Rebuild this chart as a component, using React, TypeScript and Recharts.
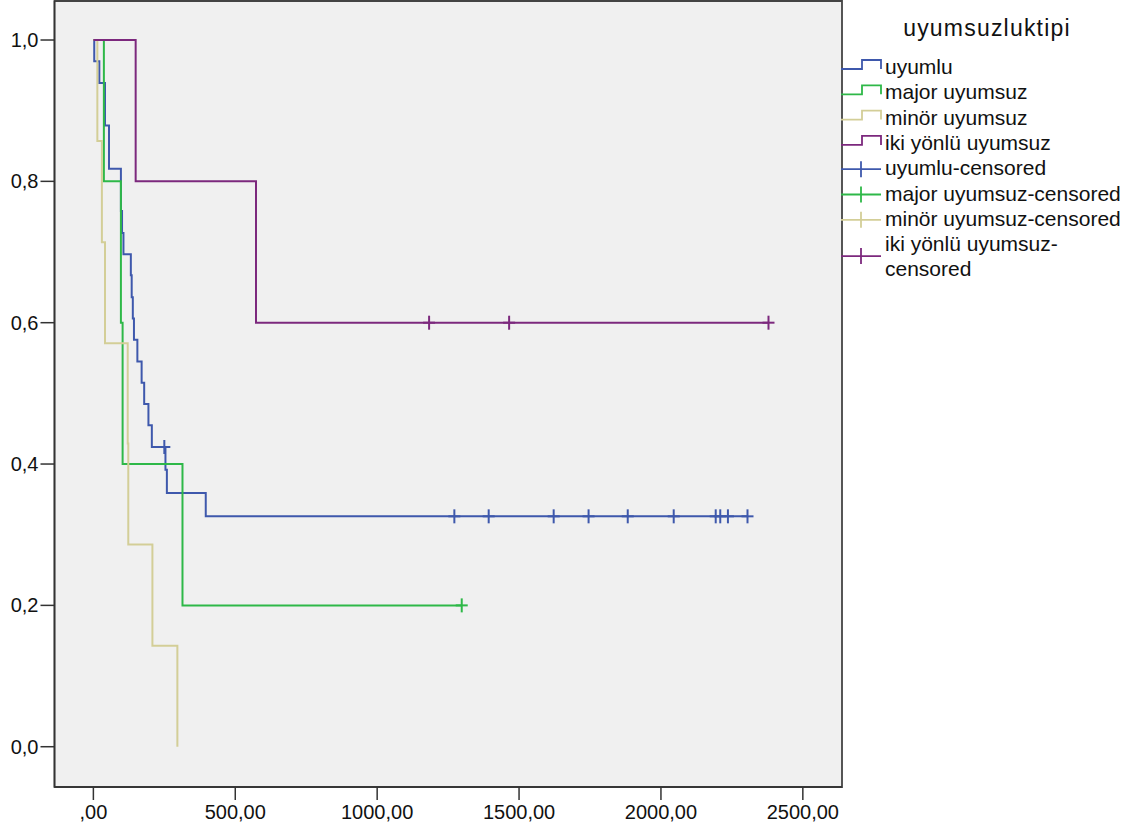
import React from 'react';
import { ComposedChart, Line, Scatter, XAxis, YAxis, ReferenceArea, Legend } from 'recharts';

// Kaplan-Meier steps (time, survival)
const uyumluT = [0, 3, 21, 41, 55, 97, 101, 106, 132, 135, 139, 143, 155, 170, 179, 194, 206, 250, 254, 259, 396, 2305];
const uyumluS = [1, 0.97, 0.939, 0.879, 0.818, 0.758, 0.727, 0.697, 0.667, 0.636, 0.606, 0.576, 0.545, 0.515, 0.485, 0.455, 0.424, 0.424, 0.392, 0.359, 0.326, 0.326];
const uyumluCensT = [250, 1272, 1393, 1622, 1745, 1883, 2045, 2193, 2209, 2236, 2305];
const uyumluCensS = [0.424, 0.326, 0.326, 0.326, 0.326, 0.326, 0.326, 0.326, 0.326, 0.326, 0.326];

const majorT = [0, 37, 97, 103, 314, 1298];
const majorS = [1, 0.8, 0.6, 0.4, 0.2, 0.2];
const majorCensT = [1298];
const majorCensS = [0.2];

const minorT = [0, 14, 30, 41, 121, 123, 208, 296];
const minorS = [1, 0.857, 0.714, 0.571, 0.429, 0.286, 0.143, 0];
const minorCensT: number[] = [];
const minorCensS: number[] = [];

const ikiT = [0, 149, 573, 2379];
const ikiS = [1, 0.8, 0.6, 0.6];
const ikiCensT = [1183, 1465, 2379];
const ikiCensS = [0.6, 0.6, 0.6];

const seriesNames = ['uyumlu', 'major uyumsuz', 'minör uyumsuz', 'iki yönlü uyumsuz'];
const censoredNames = ['uyumlu-censored', 'major uyumsuz-censored', 'minör uyumsuz-censored', 'iki yönlü uyumsuz-censored'];
const colors = ['#3E58AC', '#2EB848', '#D3CE97', '#7C287D'];
const legendTitle = 'uyumsuzluktipi';

const xTicks = [0, 500, 1000, 1500, 2000, 2500];
const yTicks = [0, 0.2, 0.4, 0.6, 0.8, 1.0];

const zip = (t: number[], s: number[]) => t.map((v, i) => ({ t: v, s: s[i] }));
const steps = [zip(uyumluT, uyumluS), zip(majorT, majorS), zip(minorT, minorS), zip(ikiT, ikiS)];
const cens = [zip(uyumluCensT, uyumluCensS), zip(majorCensT, majorCensS), zip(minorCensT, minorCensS), zip(ikiCensT, ikiCensS)];

const X_DOMAIN: [number, number] = [-137, 2638];
const Y_DOMAIN: [number, number] = [-0.057, 1.0552];

const FONT = '"Liberation Sans", Arial, sans-serif';

const makeCross = (color: string) => (props: any) => {
  const { cx, cy } = props;
  if (cx == null || cy == null) return <g />;
  return (
    <g>
      <line x1={cx - 6} x2={cx + 6} y1={cy} y2={cy} stroke={color} strokeWidth={2} />
      <line x1={cx} x2={cx} y1={cy - 7} y2={cy + 7} stroke={color} strokeWidth={2} />
    </g>
  );
};

const LegendContent = () => {
  const base0 = 74;
  const dy = 25.3;
  const items: React.ReactNode[] = [];
  seriesNames.forEach((n, i) => {
    const b = base0 + dy * i;
    items.push(
      <g key={'s' + i}>
        <path d={`M1,${b - 5} H22 V${b - 14} H41 V${b - 5}`} fill="none" stroke={colors[i]} strokeWidth={1.8} />
        <text x={45} y={b} fontSize={21} fontFamily={FONT} fill="#111">{n}</text>
      </g>
    );
  });
  censoredNames.forEach((n, i) => {
    const b = base0 + dy * (i + 4);
    const twoLine = i === 3;
    const lineY = twoLine ? b + 5 : b - 6;
    items.push(
      <g key={'c' + i}>
        <line x1={1} x2={41} y1={lineY} y2={lineY} stroke={colors[i]} strokeWidth={1.8} />
        <line x1={21} x2={21} y1={lineY - 8} y2={lineY + 8} stroke={colors[i]} strokeWidth={1.8} />
        {twoLine ? (
          <text x={45} y={b} fontSize={21} fontFamily={FONT} fill="#111">
            <tspan x={45} y={b}>{'iki yönlü uyumsuz-'}</tspan>
            <tspan x={45} y={b + 24.5}>{'censored'}</tspan>
          </text>
        ) : (
          <text x={45} y={b} fontSize={21} fontFamily={FONT} fill="#111">{n}</text>
        )}
      </g>
    );
  });
  return (
    <svg width={292} height={300} style={{ display: 'block' }}>
      <text x={147} y={36} textAnchor="middle" fontSize={23} letterSpacing={1.2} fontFamily={FONT} fill="#111">{legendTitle}</text>
      {items}
    </svg>
  );
};

export default function App() {
  return (
    <div style={{ position: 'absolute', left: 0, top: 0, width: 1132, height: 834, background: '#fff' }}>
      <ComposedChart width={1132} height={834} margin={{ top: 1, right: 290, bottom: 0, left: 0 }}>
        <XAxis
          type="number"
          dataKey="t"
          domain={X_DOMAIN}
          ticks={xTicks}
          allowDataOverflow
          height={47}
          tickSize={13}
          tickMargin={5}
          stroke="#333"
          strokeWidth={1.5}
          tick={{ fill: '#111', fontSize: 20, fontFamily: FONT }}
          tickFormatter={(v: number) => (v === 0 ? ',00' : `${v},00`)}
        />
        <YAxis
          type="number"
          dataKey="s"
          domain={Y_DOMAIN}
          ticks={yTicks}
          allowDataOverflow
          width={54.5}
          tickSize={14}
          tickMargin={2}
          stroke="#333"
          strokeWidth={1.5}
          tick={{ fill: '#111', fontSize: 20, fontFamily: FONT }}
          tickFormatter={(v: number) => v.toFixed(1).replace('.', ',')}
        />
        <ReferenceArea x1={X_DOMAIN[0]} x2={X_DOMAIN[1]} y1={Y_DOMAIN[0]} y2={Y_DOMAIN[1]} fill="#F0F0F0" fillOpacity={1} stroke="#444" strokeWidth={1.8} ifOverflow="visible" />
        {steps.map((d, i) => (
          <Line
            key={'l' + i}
            data={d}
            dataKey="s"
            type="stepAfter"
            stroke={colors[i]}
            strokeWidth={2}
            dot={false}
            activeDot={false}
            isAnimationActive={false}
            legendType="none"
          />
        ))}
        {cens.map((d, i) => (
          <Scatter
            key={'c' + i}
            data={d}
            dataKey="s"
            fill={colors[i]}
            shape={makeCross(colors[i])}
            isAnimationActive={false}
            legendType="none"
          />
        ))}
        <Legend
          layout="horizontal"
          verticalAlign="middle"
          content={() => <LegendContent />}
          wrapperStyle={{ position: 'absolute', left: 840, top: 0, width: 292, height: 300 }}
        />
      </ComposedChart>
    </div>
  );
}
